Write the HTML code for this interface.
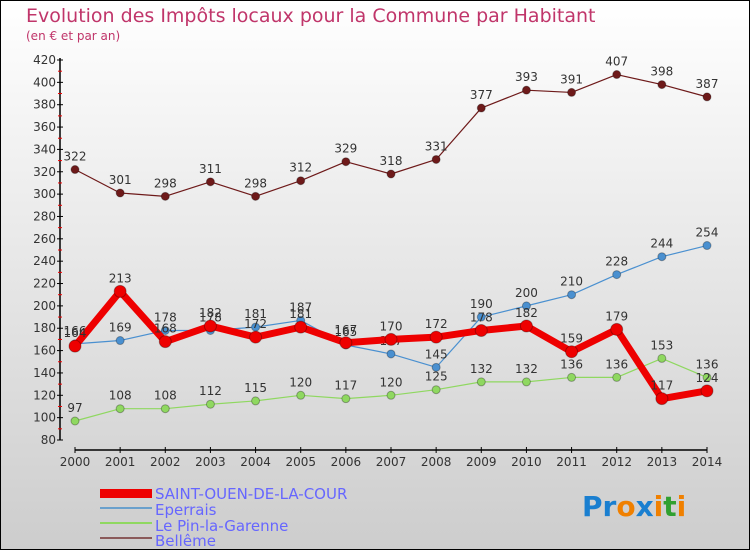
<!DOCTYPE html>
<html><head><meta charset="utf-8"><style>
body{margin:0}
#c{width:750px;height:550px;position:relative;overflow:hidden;font-family:"DejaVu Sans","Liberation Sans",sans-serif}
</style></head><body>
<div id="c">
<svg id="s" width="750" height="550" xmlns="http://www.w3.org/2000/svg">
<defs><linearGradient id="bg" x1="0" y1="0" x2="0" y2="1"><stop offset="0" stop-color="#ffffff"/><stop offset="1" stop-color="#cdcdcd"/></linearGradient></defs>
<rect x="0.5" y="0.5" width="749" height="549" fill="url(#bg)" stroke="#000"/>
<text x="26" y="22" font-size="19" fill="#c0356a">Evolution des Impôts locaux pour la Commune par Habitant</text>
<text x="26" y="40" font-size="12" fill="#c0356a">(en € et par an)</text>
<g id="axes"></g><g id="series"></g>
<g>
<rect x="100" y="489" width="52" height="9" fill="#ee0000"/>
<text x="155" y="499" font-size="15" fill="#6666ff">SAINT-OUEN-DE-LA-COUR</text>
<rect x="100" y="507" width="52" height="2" fill="#6aa0cc"/>
<text x="155" y="515" font-size="15" fill="#6666ff">Eperrais</text>
<rect x="100" y="522" width="52" height="2" fill="#8fd860"/>
<text x="155" y="531" font-size="15" fill="#6666ff">Le Pin-la-Garenne</text>
<rect x="100" y="537" width="52" height="2" fill="#8a5a5a"/>
<text x="155" y="546" font-size="15" fill="#6666ff">Bellême</text>
</g>
<text x="582" y="516" font-size="28" font-weight="bold"><tspan fill="#1a7fd0">Pr</tspan><tspan fill="#f08000">o</tspan><tspan fill="#1a7fd0">x</tspan><tspan fill="#f08000">i</tspan><tspan fill="#30a030">t</tspan><tspan fill="#f08000">i</tspan></text>
</svg></div>
<script>
const years=[2000,2001,2002,2003,2004,2005,2006,2007,2008,2009,2010,2011,2012,2013,2014];
const yTicks=[80,100,120,140,160,180,200,220,240,260,280,300,320,340,360,380,400,420];
const saintOuen=[164,213,168,182,172,181,167,170,172,178,182,159,179,117,124];
const eperrais=[166,169,178,178,181,187,165,157,145,190,200,210,228,244,254];
const pin=[97,108,108,112,115,120,117,120,125,132,132,136,136,153,136];
const belleme=[322,301,298,311,298,312,329,318,331,377,393,391,407,398,387];
const NS="http://www.w3.org/2000/svg";
function X(i){return 75+i*(707-75)/14;}
function Y(v){return 440-(v-80)*(380/340);}
function mk(tag,at,par){const e=document.createElementNS(NS,tag);for(const k in at)e.setAttribute(k,at[k]);par.appendChild(e);return e;}
const ax=document.getElementById('axes'),sg=document.getElementById('series');
let a=mk('line',{x1:60,y1:58,x2:60,y2:440,stroke:'#000','stroke-width':1.5},ax);

a=mk('line',{x1:75,y1:450,x2:707,y2:450,stroke:'#000','stroke-width':1.5},ax);

yTicks.forEach((v,k)=>{const y=Y(v);
 mk('line',{x1:57,y1:y,x2:63,y2:y,stroke:'#000'},ax);
 if(k<yTicks.length-1)mk('line',{x1:58,y1:Y(v+10),x2:62,y2:Y(v+10),stroke:'#e00'},ax);
 const t=mk('text',{x:56,y:y+4,'font-size':12,fill:'#333','text-anchor':'end'},ax);t.textContent=v;
 });
years.forEach((yr,i)=>{const x=X(i);mk('line',{x1:x,y1:447,x2:x,y2:453,stroke:'#000'},ax);
 const t=mk('text',{x:x,y:466,'font-size':12,fill:'#333','text-anchor':'middle'},ax);t.textContent=yr;
 });
function series(data,color,w,r,name,labels){
 const g=mk('g',{},sg);
 const p=mk('polyline',{points:data.map((v,i)=>X(i)+','+Y(v)).join(' '),fill:'none',stroke:color,'stroke-width':w,'stroke-linejoin':'round'},g);
 
 data.forEach((v,i)=>{const c=mk('circle',{cx:X(i),cy:Y(v),r:r,fill:color,stroke:'rgba(0,0,0,0.3)'},g);
  
  const t=mk('text',{x:X(i),y:Y(v)-9,'font-size':12,fill:'#333','text-anchor':'middle'},g);t.textContent=v;
  });
}
series(belleme,'#6e1a1a',1.2,4,'belleme');
series(pin,'#8fd860',1.2,4,'pin');
series(eperrais,'#4a90d0',1.2,4,'eperrais');
series(saintOuen,'#ee0000',7,6,'saint-ouen');
</script>
</body></html>
